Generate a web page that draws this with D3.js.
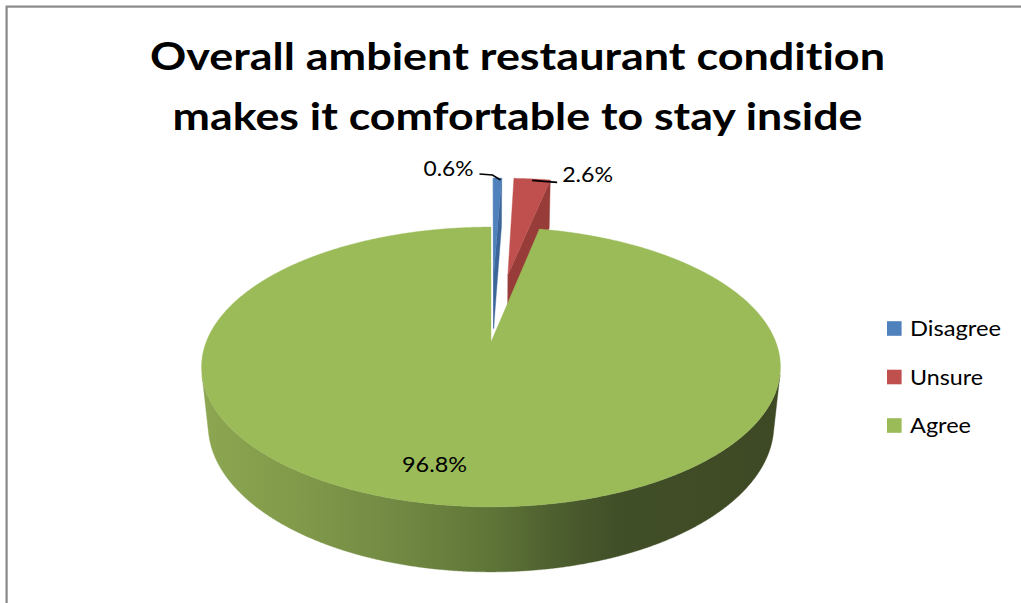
<!DOCTYPE html>
<html>
<head>
<meta charset="utf-8">
<script src="https://cdn.jsdelivr.net/npm/d3@7"></script>
<style>
  body { margin: 0; background: #ffffff; }
  text { font-family: Lato, "Open Sans", "Liberation Sans", sans-serif; fill: #000; font-variant-ligatures: none; }
</style>
</head>
<body>
<svg id="chart" width="1021" height="603"></svg>
<script>
// ---- data ----
const categories = ["Disagree", "Unsure", "Agree"];
const values = [0.6, 2.6, 96.8];
const valueLabels = ["0.6%", "2.6%", "96.8%"];
const titleLines = ["Overall ambient restaurant condition", "makes it comfortable to stay inside"];

// ---- styling ----
const colors = ["#4f81bd", "#c0504d", "#9bbb59"];
const sideColors = ["#3c6699", "#983c39", "#7a9447"];
const explode = [0.545, 0.545, 0];

// ---- perspective view of a horizontal disc (radius 1, thickness H) ----
const view = { cx: 491, cy: 342, F: 1404, D: 4.93, phi: Math.asin(0.4756), H: 0.234 };
const cosP = Math.cos(view.phi), sinP = Math.sin(view.phi);
const camera = [0, -view.D * cosP, view.D * sinP];

function project(p) {
  const [x, y, z] = p;
  const depth = view.D + y * cosP - z * sinP;
  return [view.cx + view.F * x / depth, view.cy - view.F * (y * sinP + z * cosP) / depth, depth];
}

const svg = d3.select("#chart");
const defs = svg.append("defs");

// shaded side wall of the large slice
const grad = defs.append("linearGradient")
  .attr("id", "wallShade")
  .attr("gradientUnits", "userSpaceOnUse")
  .attr("x1", 202).attr("y1", 0).attr("x2", 780).attr("y2", 0);
[[0, "#8ca651"], [0.15, "#829b4b"], [0.33, "#728a43"], [0.5, "#5f7538"],
 [0.62, "#4c5d2e"], [0.72, "#414f28"], [1, "#3d4924"]]
  .forEach(([o, c]) => grad.append("stop").attr("offset", o).attr("stop-color", c));

// chart frame
svg.append("rect")
  .attr("x", 6.6).attr("y", 6.6).attr("width", 1200).attr("height", 1000)
  .attr("fill", "none").attr("stroke", "#8a8a8a").attr("stroke-width", 2.2);

// title
svg.append("g").selectAll("text").data(titleLines).join("text")
  .attr("x", 517.5)
  .attr("y", (d, i) => 70 + i * 59.5)
  .attr("text-anchor", "middle")
  .attr("font-size", 38)
  .attr("font-weight", 700)
  .attr("textLength", (d, i) => [735, 690][i])
  .attr("lengthAdjust", "spacingAndGlyphs")
  .text(d => d);

// ---- pie geometry ----
const pie = d3.pie().sort(null).value(d => d);
const arcs = pie(values);
const step = Math.PI / 720;
const lineGen = d3.line();

const walls = [];
const tops = [];
const anchors = [];

arcs.forEach((a, i) => {
  const mid = (a.startAngle + a.endAngle) / 2;
  const ox = explode[i] * Math.sin(mid), oy = explode[i] * Math.cos(mid);
  const pt = (t, r, z) => [ox + r * Math.sin(t), oy + r * Math.cos(t), z];
  const n = Math.max(2, Math.ceil((a.endAngle - a.startAngle) / step));
  const ts = d3.range(n + 1).map(k => a.startAngle + (a.endAngle - a.startAngle) * k / n);

  // top face
  tops.push({ i, pts: [pt(0, 0, 0), ...ts.map(t => pt(t, 1, 0))] });
  anchors.push(project(pt(mid, 1, 0)));

  // outer curved wall, split into runs that face the camera
  const faces = t => {
    const p = pt(t, 1, -view.H / 2);
    return Math.sin(t) * (camera[0] - p[0]) + Math.cos(t) * (camera[1] - p[1]) > 0;
  };
  const pushWall = run => {
    const pts = [...run.map(t => pt(t, 1, 0)), ...run.slice().reverse().map(t => pt(t, 1, -view.H))];
    const c = pt(run[Math.floor(run.length / 2)], 1, -view.H / 2);
    walls.push({ pts, fill: i === 2 ? "url(#wallShade)" : sideColors[i], depth: project(c)[2] });
  };
  let run = [];
  ts.forEach(t => {
    if (faces(t)) run.push(t);
    else { if (run.length > 1) pushWall(run); run = []; }
  });
  if (run.length > 1) pushWall(run);

  // radial cut faces at both ends of the slice
  [[a.startAngle, -1], [a.endAngle, 1]].forEach(([t, s]) => {
    const nx = s * Math.cos(t), ny = -s * Math.sin(t);
    const c = pt(t, 0.5, -view.H / 2);
    if (nx * (camera[0] - c[0]) + ny * (camera[1] - c[1]) > 1e-6) {
      walls.push({
        pts: [pt(t, 0, 0), pt(t, 1, 0), pt(t, 1, -view.H), pt(t, 0, -view.H)],
        fill: sideColors[i],
        depth: project(c)[2]
      });
    }
  });
});

const pieG = svg.append("g");
walls.sort((a, b) => b.depth - a.depth);
pieG.selectAll("path.wall").data(walls).join("path")
  .attr("class", "wall")
  .attr("d", d => lineGen(d.pts.map(p => project(p).slice(0, 2))) + "Z")
  .attr("fill", d => d.fill)
  .attr("stroke", d => d.fill)
  .attr("stroke-width", 0.4);

pieG.selectAll("path.top").data(tops).join("path")
  .attr("class", "top")
  .attr("d", d => lineGen(d.pts.map(p => project(p).slice(0, 2))) + "Z")
  .attr("fill", d => colors[d.i])
  .attr("stroke", d => colors[d.i])
  .attr("stroke-width", 0.4);

// ---- data labels ----
const lblG = svg.append("g");
const [ba, ra] = anchors;
lblG.append("path")
  .attr("d", lineGen([[ba[0] + 3, ba[1] + 2], [ba[0] - 5, ba[1] - 3], [ba[0] - 18, ba[1] - 4]]))
  .attr("fill", "none").attr("stroke", "#000").attr("stroke-width", 1.6);
lblG.append("path")
  .attr("d", lineGen([[ra[0], ra[1] + 1.5], [ra[0] + 12, ra[1] + 2.5], [ra[0] + 25, ra[1] + 3.5]]))
  .attr("fill", "none").attr("stroke", "#000").attr("stroke-width", 1.6);

const labelPos = [
  { x: ba[0] - 24, y: ba[1] - 2, anchor: "end", len: 50 },
  { x: ra[0] + 30, y: ra[1] + 3, anchor: "start", len: 51 },
  { x: 434.5, y: 472, anchor: "middle", len: 65 }
];
lblG.selectAll("text").data(valueLabels).join("text")
  .attr("x", (d, i) => labelPos[i].x)
  .attr("y", (d, i) => labelPos[i].y)
  .attr("text-anchor", (d, i) => labelPos[i].anchor)
  .attr("font-size", 21)
  .attr("textLength", (d, i) => labelPos[i].len)
  .attr("lengthAdjust", "spacingAndGlyphs")
  .text(d => d);

// ---- legend ----
const legendY = d3.scalePoint().domain(categories).range([328.5, 425.5]);
const legendLen = [91, 73, 61];
const leg = svg.append("g").selectAll("g").data(categories).join("g")
  .attr("transform", d => `translate(887,${legendY(d)})`);
leg.append("rect")
  .attr("x", 0).attr("y", -7.3).attr("width", 14.6).attr("height", 14.6)
  .attr("fill", (d, i) => colors[i]);
leg.append("text")
  .attr("x", 23).attr("y", 7.5)
  .attr("font-size", 21)
  .attr("textLength", (d, i) => legendLen[i])
  .attr("lengthAdjust", "spacingAndGlyphs")
  .text(d => d);
</script>
</body>
</html>
